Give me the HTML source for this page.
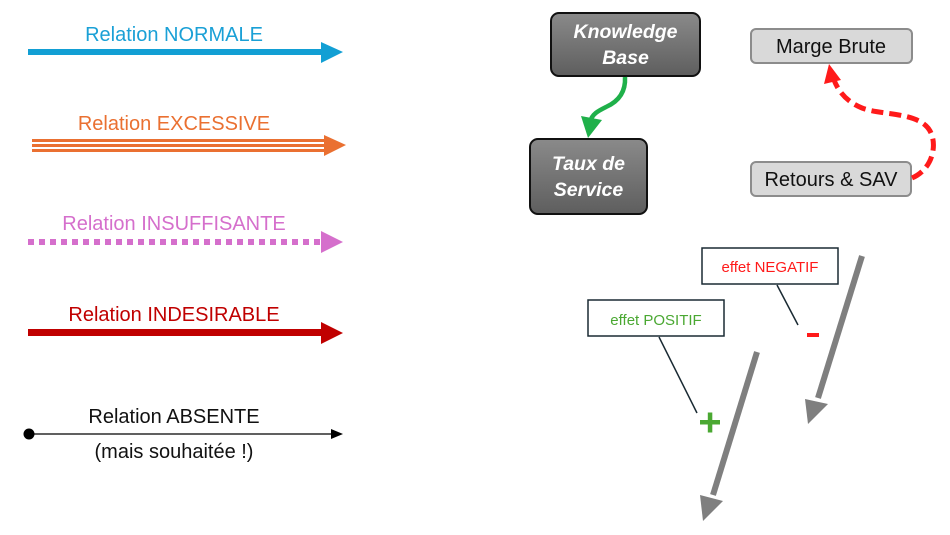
<!DOCTYPE html>
<html><head><meta charset="utf-8"><style>
html,body{margin:0;padding:0;background:#fff;}
svg{display:block;}
text{font-family:"Liberation Sans",sans-serif;}
</style></head><body>
<svg width="950" height="535" viewBox="0 0 950 535" xmlns="http://www.w3.org/2000/svg">
<defs>
<linearGradient id="dg" x1="0" y1="0" x2="0" y2="1">
<stop offset="0" stop-color="#8a8a8a"/><stop offset="1" stop-color="#5e5e5e"/></linearGradient>
</defs>
<!-- NORMALE -->
<text x="174" y="41" font-size="20" fill="#1aa0d6" text-anchor="middle">Relation NORMALE</text>
<rect x="28" y="49" width="296" height="6" fill="#129fd4"/>
<polygon points="321,42 343,52 321,63" fill="#129fd4"/>
<!-- EXCESSIVE -->
<text x="174" y="130" font-size="20" fill="#ea7031" text-anchor="middle">Relation EXCESSIVE</text>
<rect x="32" y="139" width="294" height="3" fill="#ea7031"/>
<rect x="32" y="144" width="294" height="3" fill="#ea7031"/>
<rect x="32" y="149" width="294" height="3" fill="#ea7031"/>
<polygon points="324,135 346,145 324,156" fill="#ea7031"/>
<!-- INSUFFISANTE -->
<text x="174" y="230" font-size="20" fill="#d56fcc" text-anchor="middle">Relation INSUFFISANTE</text>
<line x1="28" y1="242" x2="322" y2="242" stroke="#d56fcc" stroke-width="6" stroke-dasharray="6,5"/>
<polygon points="321,231 343,242 321,253" fill="#d56fcc"/>
<!-- INDESIRABLE -->
<text x="174" y="321" font-size="20" fill="#c00000" text-anchor="middle">Relation INDESIRABLE</text>
<rect x="28" y="329" width="296" height="7" fill="#c00000"/>
<polygon points="321,322 343,333 321,344" fill="#c00000"/>
<!-- ABSENTE -->
<text x="174" y="423" font-size="20" fill="#111" text-anchor="middle">Relation ABSENTE</text>
<circle cx="29" cy="434" r="5.5" fill="#000"/>
<line x1="29" y1="434" x2="333" y2="434" stroke="#000" stroke-width="1.3"/>
<polygon points="331,429 343,434 331,439" fill="#000"/>
<text x="174" y="458" font-size="20" fill="#111" text-anchor="middle">(mais souhaitée !)</text>

<!-- Knowledge Base -->
<rect x="551" y="13" width="149" height="63" rx="8" fill="url(#dg)" stroke="#111" stroke-width="2"/>
<text x="625.5" y="38" font-size="19.5" font-weight="bold" font-style="italic" fill="#fff" text-anchor="middle">Knowledge</text>
<text x="625.5" y="64" font-size="19.5" font-weight="bold" font-style="italic" fill="#fff" text-anchor="middle">Base</text>
<!-- Taux de Service -->
<rect x="530" y="139" width="117" height="75" rx="8" fill="url(#dg)" stroke="#111" stroke-width="2"/>
<text x="588.5" y="170" font-size="19.5" font-weight="bold" font-style="italic" fill="#fff" text-anchor="middle">Taux de</text>
<text x="588.5" y="196" font-size="19.5" font-weight="bold" font-style="italic" fill="#fff" text-anchor="middle">Service</text>
<!-- green curve -->
<path d="M625,77 C626,95 615,103 606,107 C598,111 592,114 590,122" fill="none" stroke="#1fb04a" stroke-width="4.5"/>
<polygon points="581,116 588,138 602,120" fill="#1fb04a"/>
<!-- Marge Brute -->
<rect x="751" y="29" width="161" height="34" rx="5" fill="#d9d9d9" stroke="#8c8c8c" stroke-width="2"/>
<text x="831" y="53" font-size="20" fill="#111" text-anchor="middle">Marge Brute</text>
<!-- Retours -->
<rect x="751" y="162" width="160" height="34" rx="5" fill="#d9d9d9" stroke="#8c8c8c" stroke-width="2"/>
<text x="831" y="186" font-size="20" fill="#111" text-anchor="middle">Retours &amp; SAV</text>
<!-- red dashed -->
<path d="M912,178 C935,168 938,140 928,128 C915,112 880,115 862,108 C845,101 838,90 834,80" fill="none" stroke="#ff1a1a" stroke-width="5" stroke-dasharray="12,6"/>
<polygon points="829,64 824,84 841,80" fill="#ff1a1a"/>
<!-- effet NEGATIF -->
<rect x="702" y="248" width="136" height="36" fill="#fff" stroke="#1a2a33" stroke-width="1.5"/>
<text x="770" y="272" font-size="15" fill="#ff1a1a" text-anchor="middle">effet NEGATIF</text>
<line x1="777" y1="285" x2="798" y2="325" stroke="#1a2a33" stroke-width="1.5"/>
<rect x="807" y="333" width="12" height="4" fill="#ff1a1a"/>
<!-- effet POSITIF -->
<rect x="588" y="300" width="136" height="36" fill="#fff" stroke="#1a2a33" stroke-width="1.5"/>
<text x="656" y="325" font-size="15" fill="#4aa832" text-anchor="middle">effet POSITIF</text>
<line x1="659" y1="337" x2="697" y2="413" stroke="#1a2a33" stroke-width="1.5"/>
<rect x="700" y="420" width="20" height="4.5" fill="#4aa832"/>
<rect x="707.8" y="412.5" width="4.5" height="20" fill="#4aa832"/>
<!-- gray arrows -->
<line x1="862" y1="256" x2="818" y2="398" stroke="#7f7f7f" stroke-width="6"/>
<polygon points="805,399 808,424 828,404" fill="#7f7f7f"/>
<line x1="757" y1="352" x2="713" y2="495" stroke="#7f7f7f" stroke-width="6"/>
<polygon points="700,495 703,521 723,501" fill="#7f7f7f"/>
</svg>
</body></html>
